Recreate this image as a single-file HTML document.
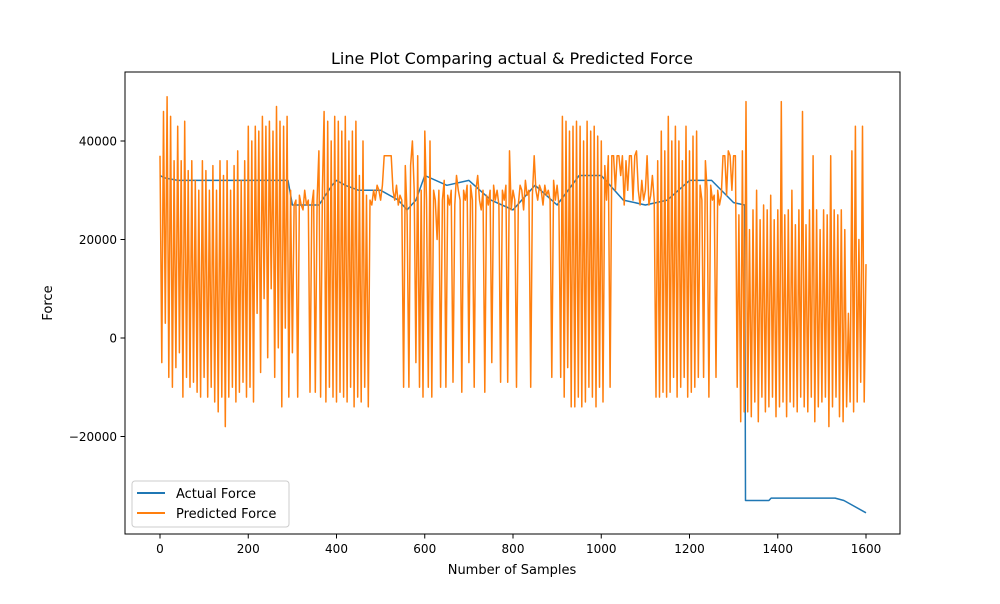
<!DOCTYPE html>
<html><head><meta charset="utf-8">
<style>
body{margin:0;background:#fff;font-family:"DejaVu Sans","Liberation Sans",sans-serif;}
svg text{font-family:"DejaVu Sans","Liberation Sans",sans-serif;}
</style></head>
<body>
<svg id="chart" width="1000" height="600" viewBox="0 0 1000 600">
<rect x="0" y="0" width="1000" height="600" fill="#fff"/>
<text x="512" y="64" font-size="16" text-anchor="middle">Line Plot Comparing actual &amp; Predicted Force</text>
<defs><clipPath id="clip"><rect x="125" y="72" width="775" height="462"/></clipPath></defs>
<g id="series" clip-path="url(#clip)"></g>
<rect x="125" y="72" width="775" height="462" fill="none" stroke="#000" stroke-width="1"/>
<g id="xticks"></g><g id="yticks"></g>
<text x="512" y="574" font-size="13" text-anchor="middle">Number of Samples</text>
<text x="52" y="303" font-size="13" text-anchor="middle" transform="rotate(-90 52 303)">Force</text>
<g>
<rect x="132" y="481" width="157" height="46" rx="3" fill="#fff" fill-opacity="0.8" stroke="#ccc"/>
<g>
<line x1="137" y1="493" x2="165" y2="493" stroke="#1f77b4" stroke-width="2"/>
<text x="176" y="498" font-size="13">Actual Force</text></g>
<g>
<line x1="137" y1="513" x2="165" y2="513" stroke="#ff7f0e" stroke-width="2"/>
<text x="176" y="518" font-size="13">Predicted Force</text></g>
</g>
</svg>
<script>
const xTicks=[0,200,400,600,800,1000,1200,1400,1600];
const yTicks=[-20000,0,20000,40000];
const yTickLabels=["\u221220000","0","20000","40000"];
const actualX=[0,10,40,80,150,290,300,360,390,400,420,450,500,540,560,580,600,650,700,750,800,850,900,950,1000,1050,1100,1150,1200,1250,1300,1325,1327,1380,1385,1400,1530,1550,1560,1600];
const actualY=[33000,32500,32000,32000,32000,32000,27000,27000,31000,32000,31000,30000,30000,28000,26000,28000,33000,31000,32000,28000,26000,31000,27000,33000,33000,28000,27000,28000,32000,32000,27500,27000,-33000,-33000,-32500,-32500,-32500,-33000,-33500,-35500];
const predStep=4;
const predicted=[37000,-5000,46000,3000,49000,-8000,45000,-10000,36000,-6000,43000,-3000,36000,-12000,44000,-8000,34000,-10000,36000,-9000,32000,-11000,30000,-12000,36000,
-8000,34000,-12000,30000,-10000,35000,-13000,30000,-15000,36000,-12000,33000,-18000,36000,-12000,30000,-10000,35000,-13000,38000,-11000,32000,-9000,36000,-12000,
43000,-10000,40000,-13000,43000,5000,42000,-7000,45000,8000,43000,-4000,44000,10000,42000,-8000,47000,-2000,44000,-14000,43000,2000,45000,-12000,30000,
-3000,27000,28000,-12000,29000,27000,26000,30000,27000,28000,-11000,27000,30000,-11000,28000,38000,-12000,30000,46000,-13000,44000,-10000,40000,-12000,45000,
-13000,44000,-11000,42000,-12000,45000,-13000,40000,-10000,42000,-14000,44000,-12000,33000,-13000,40000,-10000,29000,-14000,28000,27000,30000,28000,31000,30000,
28000,31000,37000,37000,37000,37000,37000,30000,28000,31000,27000,29000,28000,-10000,35000,25000,-10000,35000,40000,30000,-5000,37000,-10000,30000,-12000,
42000,28000,-10000,40000,-12000,30000,28000,20000,30000,-10000,28000,32000,-10000,29000,27000,30000,-9000,27000,33000,30000,28000,-11000,30000,28000,31000,
-5000,31000,28000,-10000,30000,33000,28000,26000,30000,-11000,29000,27000,30000,-5000,31000,28000,30000,27000,-9000,30000,28000,31000,-9000,38000,26000,
30000,28000,-10000,27000,31000,30000,26000,32000,29000,30000,-10000,29000,37000,30000,28000,31000,30000,27000,31000,29000,30000,28000,-8000,32000,28000,
31000,27000,-8000,45000,-12000,44000,-6000,42000,-14000,43000,-14000,44000,-12000,43000,-14000,40000,-13000,44000,-10000,42000,-12000,43000,-14000,41000,-10000,
40000,-13000,35000,28000,37000,-10000,37000,37000,30000,37000,37000,33000,37000,27000,36000,30000,37000,37000,28000,37000,38000,30000,27000,32000,28000,
30000,37000,27000,29000,33000,28000,-12000,36000,-12000,42000,-11000,38000,-12000,45000,-11000,40000,-8000,43000,-12000,40000,-10000,36000,-8000,43000,-12000,
38000,-11000,41000,-10000,42000,-8000,31000,28000,-8000,36000,30000,-12000,31000,28000,29000,-8000,30000,27000,29000,37000,37000,29000,38000,37000,30000,
37000,37000,-10000,25000,-17000,38000,-15000,48000,-15000,22000,-16000,26000,-13000,30000,-17000,24000,-12000,27000,-15000,26000,-14000,29000,-12000,24000,-16000,
26000,-14000,48000,-13000,25000,-16000,26000,-13000,30000,-14000,23000,-15000,26000,-12000,46000,-14000,23000,-15000,26000,-12000,37000,-17000,26000,-14000,22000,
-13000,26000,-12000,25000,-18000,37000,-14000,26000,-12000,25000,-16000,26000,-17000,22000,-14000,5000,-13000,38000,-15000,43000,-13000,20000,-9000,43000,-13000,15000];

const NS="http://www.w3.org/2000/svg";
const X=v=>160+(v/1600)*706;
const Y=v=>338-(v/20000)*98.5;
const series=document.getElementById('series');
function poly(xs,ys,color,name){
  const p=document.createElementNS(NS,'polyline');
  p.setAttribute('points',xs.map((x,i)=>X(x).toFixed(1)+','+Y(ys[i]).toFixed(1)).join(' '));
  p.setAttribute('fill','none');p.setAttribute('stroke',color);p.setAttribute('stroke-width','1.5');
  p.setAttribute('stroke-linejoin','round');
  
  
  series.appendChild(p);
}
poly(actualX,actualY,'#1f77b4','actual-force-line');
poly(predicted.map((_,i)=>Math.min(i*predStep,1600)),predicted,'#ff7f0e','predicted-force-line');
const xg=document.getElementById('xticks');
xTicks.forEach(t=>{
  const l=document.createElementNS(NS,'line');
  l.setAttribute('x1',X(t));l.setAttribute('x2',X(t));l.setAttribute('y1',534);l.setAttribute('y2',538.5);l.setAttribute('stroke','#000');
  
  
  xg.appendChild(l);
  const tx=document.createElementNS(NS,'text');
  tx.setAttribute('x',X(t));tx.setAttribute('y',553);tx.setAttribute('font-size','12');tx.setAttribute('text-anchor','middle');
  tx.textContent=t;
  
  
  xg.appendChild(tx);
});
const yg=document.getElementById('yticks');
yTicks.forEach((t,i)=>{
  const l=document.createElementNS(NS,'line');
  l.setAttribute('x1',120.5);l.setAttribute('x2',125);l.setAttribute('y1',Y(t));l.setAttribute('y2',Y(t));l.setAttribute('stroke','#000');
  
  
  yg.appendChild(l);
  const tx=document.createElementNS(NS,'text');
  tx.setAttribute('x',117);tx.setAttribute('y',Y(t)+4.5);tx.setAttribute('font-size','12');tx.setAttribute('text-anchor','end');
  tx.textContent=yTickLabels[i];
  
  
  yg.appendChild(tx);
});
</script>
</body></html>
